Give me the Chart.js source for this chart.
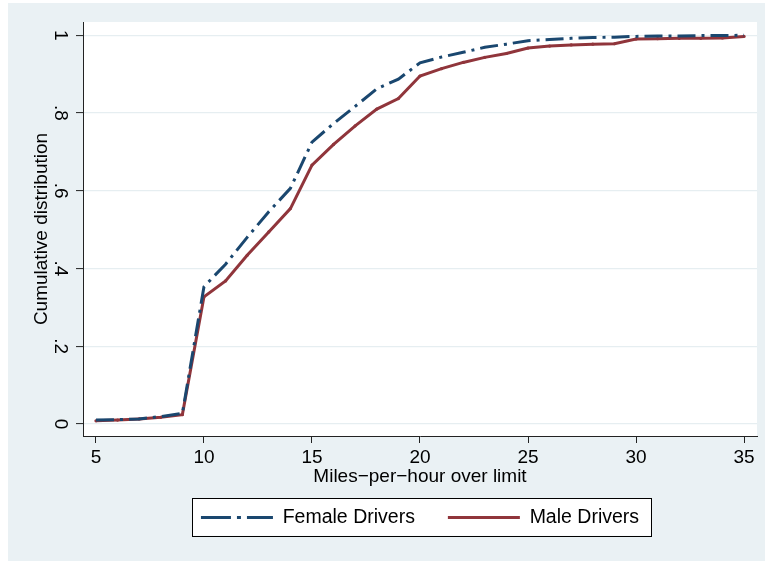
<!DOCTYPE html>
<html>
<head>
<meta charset="utf-8">
<script src="https://cdn.jsdelivr.net/npm/chart.js@4.4.0/dist/chart.umd.min.js"></script>
<style>
  html, body { margin: 0; padding: 0; background: #fff; }
  #wrap { width: 765px; height: 561px; }
</style>
</head>
<body>
<div id="wrap"><canvas id="cdfChart"></canvas></div>
<script>
// Data
const speeds = [5, 6, 7, 8, 9, 10, 11, 12, 13, 14, 15, 16, 17, 18, 19, 20,
                21, 22, 23, 24, 25, 26, 27, 28, 29, 30, 31, 32, 33, 34, 35];
const femaleCdf = [0.010, 0.011, 0.013, 0.019, 0.027, 0.353, 0.411, 0.480, 0.546, 0.606,
                   0.725, 0.773, 0.817, 0.862, 0.887, 0.929, 0.944, 0.956, 0.969, 0.977,
                   0.986, 0.989, 0.992, 0.994, 0.995, 0.997, 0.998, 0.998, 0.999, 0.999, 1.000];
const maleCdf = [0.008, 0.010, 0.013, 0.017, 0.024, 0.327, 0.368, 0.434, 0.494, 0.554,
                 0.666, 0.719, 0.767, 0.810, 0.837, 0.895, 0.914, 0.930, 0.943, 0.953,
                 0.967, 0.972, 0.975, 0.977, 0.978, 0.990, 0.991, 0.992, 0.992, 0.993, 0.997];
const xTicks = [5, 10, 15, 20, 25, 30, 35];
const yTicks = [0, 0.2, 0.4, 0.6, 0.8, 1];
const yTickLabels = ['0', '.2', '.4', '.6', '.8', '1'];

const FONT = "'Liberation Sans', Arial, Helvetica, sans-serif";
const NAVY = '#1a476f';
const MAROON = '#90353b';
const BG = '#eaf1f4';

// background, white plot region and the framed legend
const backdrop = {
  id: 'backdrop',
  beforeDraw(chart) {
    const { ctx, chartArea: a, width, height } = chart;
    ctx.save();
    ctx.fillStyle = '#fff';
    ctx.fillRect(0, 0, width, height);
    ctx.fillStyle = BG;
    ctx.fillRect(8, 3, width - 8, height - 3);
    ctx.fillStyle = '#fff';
    ctx.fillRect(a.left, a.top, a.right - a.left, a.bottom - a.top);
    const hb = chart.legend.legendHitBoxes;
    if (hb && hb.length) {
      const first = hb[0], last = hb[hb.length - 1];
      const x0 = first.left - 9, x1 = last.left + last.width + 12;
      const y0 = first.top - 9.5, y1 = first.top + first.height + 8.5;
      ctx.fillRect(x0, y0, x1 - x0, y1 - y0);
      ctx.strokeStyle = '#000';
      ctx.lineWidth = 1;
      ctx.strokeRect(Math.round(x0) + 0.5, Math.round(y0) + 0.5, Math.round(x1 - x0), Math.round(y1 - y0));
    }
    ctx.restore();
  }
};

// legend samples take the line style of each dataset
function legendItems(chart) {
  const items = Chart.defaults.plugins.legend.labels.generateLabels(chart);
  items.forEach((it, i) => {
    const ds = chart.data.datasets[i];
    it.strokeStyle = ds.borderColor;
    it.lineWidth = ds.borderWidth;
    it.lineDash = ds.borderDash ? [30, 6, 4, 6] : [];
  });
  return items;
}

const ctx = document.getElementById('cdfChart').getContext('2d');
new Chart(ctx, {
  type: 'line',
  data: {
    datasets: [
      {
        label: 'Female Drivers',
        data: speeds.map((s, i) => ({ x: s, y: femaleCdf[i] })),
        borderColor: NAVY,
        backgroundColor: NAVY,
        borderWidth: 3,
        borderDash: [18, 6, 3, 6],
        pointRadius: 0,
        tension: 0
      },
      {
        label: 'Male Drivers',
        data: speeds.map((s, i) => ({ x: s, y: maleCdf[i] })),
        borderColor: MAROON,
        backgroundColor: MAROON,
        borderWidth: 3,
        pointRadius: 1.6,
        pointBorderWidth: 0,
        pointBackgroundColor: MAROON,
        tension: 0
      }
    ]
  },
  options: {
    responsive: true,
    maintainAspectRatio: false,
    animation: false,
    devicePixelRatio: 1,
    layout: { padding: { left: 8, right: 8, top: 22, bottom: 23.75 } },
    plugins: {
      tooltip: { enabled: false },
      legend: {
        position: 'bottom',
        fullSize: false,
        labels: {
          usePointStyle: true,
          pointStyle: 'line',
          pointStyleWidth: 72,
          boxHeight: 19.5,
          padding: 33,
          color: '#000',
          font: { family: FONT, size: 19.5 },
          generateLabels: legendItems
        }
      }
    },
    scales: {
      x: {
        type: 'linear',
        min: 4.4,
        max: 35.6,
        afterBuildTicks: (axis) => { axis.ticks = xTicks.map(v => ({ value: v })); },
        afterFit: (axis) => { axis.height = 38.75; },
        grid: { drawOnChartArea: false, tickLength: 7, tickColor: '#222', tickWidth: 1 },
        border: { color: '#222', width: 1 },
        ticks: { color: '#000', padding: 3, maxRotation: 0, font: { family: FONT, size: 19 } },
        title: {
          display: true,
          text: 'Miles\u2212per\u2212hour over limit',
          color: '#000',
          padding: { top: 0, bottom: -13 },
          font: { family: FONT, size: 19 }
        }
      },
      y: {
        min: -0.031,
        max: 1.034,
        afterBuildTicks: (axis) => { axis.ticks = yTicks.map(v => ({ value: v })); },
        afterFit: (axis) => { axis.width = 75; },
        grid: { color: '#e6eef1', lineWidth: 1.2, tickLength: 7, tickColor: '#222', tickWidth: 1 },
        border: { color: '#222', width: 1 },
        ticks: {
          color: '#000',
          padding: 8,
          minRotation: -90,
          maxRotation: -90,
          crossAlign: 'center',
          font: { family: FONT, size: 19 },
          callback: (value) => {
            const i = yTicks.findIndex(t => Math.abs(t - value) < 1e-9);
            return i >= 0 ? yTickLabels[i] : '';
          }
        },
        title: {
          display: true,
          text: 'Cumulative distribution',
          color: '#000',
          padding: { top: 22, bottom: 0 },
          font: { family: FONT, size: 19 }
        }
      }
    }
  },
  plugins: [backdrop]
});
</script>
</body>
</html>
